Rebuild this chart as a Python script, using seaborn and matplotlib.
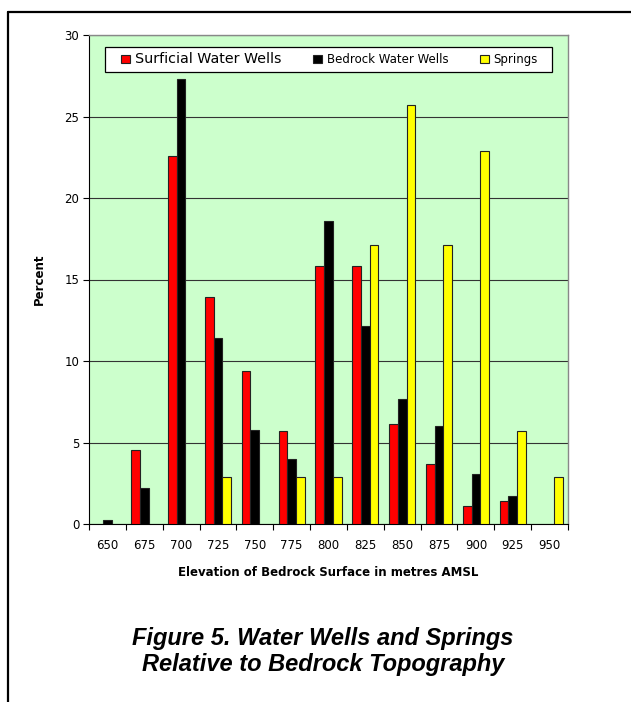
import numpy as np
import pandas as pd
import matplotlib
matplotlib.use("Agg")
import matplotlib.pyplot as plt
from matplotlib.lines import Line2D
from matplotlib.patches import Rectangle
from matplotlib.ticker import FixedLocator
import seaborn as sns

categories = ["650", "675", "700", "725", "750", "775", "800", "825", "850", "875", "900", "925", "950"]
surficial = [np.nan, 4.56, 22.6, 13.9, 9.37, 5.69, 15.8, 15.8, 6.16, 3.66, 1.1, 1.39, np.nan]
bedrock = [0.22, 2.2, 27.27, 11.4, 5.77, 3.99, 18.6, 12.17, 7.69, 6.03, 3.09, 1.7, np.nan]
springs = [np.nan, np.nan, np.nan, 2.86, np.nan, 2.86, 2.86, 17.14, 25.71, 17.14, 22.86, 5.71, 2.86]
series_names = ["Surficial Water Wells", "Bedrock Water Wells", "Springs"]
series_colors = ["#FF0000", "#000000", "#FFFF00"]
y_ticks = [0, 5, 10, 15, 20, 25, 30]

rows = []
for name, vals in zip(series_names, [surficial, bedrock, springs]):
    for c, v in zip(categories, vals):
        rows.append({"Elevation": c, "Series": name, "Percent": v})
df = pd.DataFrame(rows)

sns.set_style("white")
plt.rcParams['font.family'] = ['DejaVu Sans']
plt.rcParams['text.color'] = 'black'
plt.rcParams['axes.labelcolor'] = 'black'
plt.rcParams['xtick.color'] = 'black'
plt.rcParams['ytick.color'] = 'black'

W, H = 631, 702
fig = plt.figure(figsize=(W/100, H/100), dpi=100)
L, R, T, B = 89, 568, 35, 524
ax = fig.add_axes([L/W, 1 - B/H, (R-L)/W, (B-T)/H])
ax.set_facecolor("#CCFFCC")

sns.barplot(data=df, x="Elevation", y="Percent", hue="Series",
            order=categories, hue_order=series_names,
            palette=dict(zip(series_names, series_colors)), saturation=1,
            width=0.71, edgecolor="#222222", linewidth=0.8,
            errorbar=None, ax=ax, legend=True, zorder=3)

ax.set_xlim(-0.5, len(categories) - 0.5)
ax.set_ylim(0, 30)
ax.set_yticks(y_ticks)
ax.yaxis.grid(True, color="#333333", linewidth=0.8, zorder=0)
ax.set_axisbelow(True)
ax.tick_params(axis="y", direction="out", length=4, width=0.8, labelsize=8.5, color="black", left=True, pad=3)
ax.xaxis.set_minor_locator(FixedLocator(np.arange(-0.5, len(categories), 1.0)))
ax.tick_params(axis="x", which="major", length=0, labelsize=8.5, pad=11)
ax.tick_params(axis="x", which="minor", direction="out", length=4, width=0.8, color="black", bottom=True)

for side in ["top", "right"]:
    ax.spines[side].set_visible(True)
    ax.spines[side].set_color("#888888")
    ax.spines[side].set_linewidth(1.0)
for side in ["left", "bottom"]:
    ax.spines[side].set_visible(True)
    ax.spines[side].set_color("black")
    ax.spines[side].set_linewidth(0.8)

ax.set_xlabel("Elevation of Bedrock Surface in metres AMSL", fontsize=8.5, fontweight="bold", labelpad=10)
ax.set_ylabel("Percent", fontsize=8.5, fontweight="bold", labelpad=13)

# legend box
lx0, lx1, ly0, ly1 = 105, 552, 46.7, 71.7
def ax_x(px):
    return (px - L) / (R - L)
def ax_y(py):
    return 1 - (py - T) / (B - T)
ax.add_patch(Rectangle((ax_x(lx0), ax_y(ly1)), ax_x(lx1) - ax_x(lx0), ax_y(ly0) - ax_y(ly1),
                       transform=ax.transAxes, facecolor="white", edgecolor="black",
                       linewidth=0.9, zorder=4, clip_on=False))

handles, labels = ax.get_legend_handles_labels()
leg = ax.legend(handles, labels, ncol=3, loc="center",
                bbox_to_anchor=(ax_x((lx0 + lx1) / 2 + 1), ax_y((ly0 + ly1) / 2)),
                frameon=False, borderaxespad=0, borderpad=0,
                handlelength=0.75, handleheight=0.75, handletextpad=0.4,
                columnspacing=2.7, fontsize=8.5)
leg.set_zorder(5)
leg.get_texts()[0].set_fontsize(10.3)
for h in leg.legend_handles:
    h.set_edgecolor("#222222")
    h.set_linewidth(0.8)

fig.text(323/W, 1 - 638/H, "Figure 5. Water Wells and Springs", ha="center", va="center",
         fontsize=17, fontweight="bold", fontstyle="italic", family="Liberation Sans")
fig.text(323/W, 1 - 665/H, "Relative to Bedrock Topography", ha="center", va="center",
         fontsize=17, fontweight="bold", fontstyle="italic", family="Liberation Sans")

fig.add_artist(Line2D([8/W, 1.0], [1 - 12/H, 1 - 12/H], color="black", linewidth=1.6, transform=fig.transFigure))
fig.add_artist(Line2D([8/W, 8/W], [1 - 12/H, 0], color="black", linewidth=1.6, transform=fig.transFigure))

fig.savefig("out.png", dpi=100, facecolor="white")
